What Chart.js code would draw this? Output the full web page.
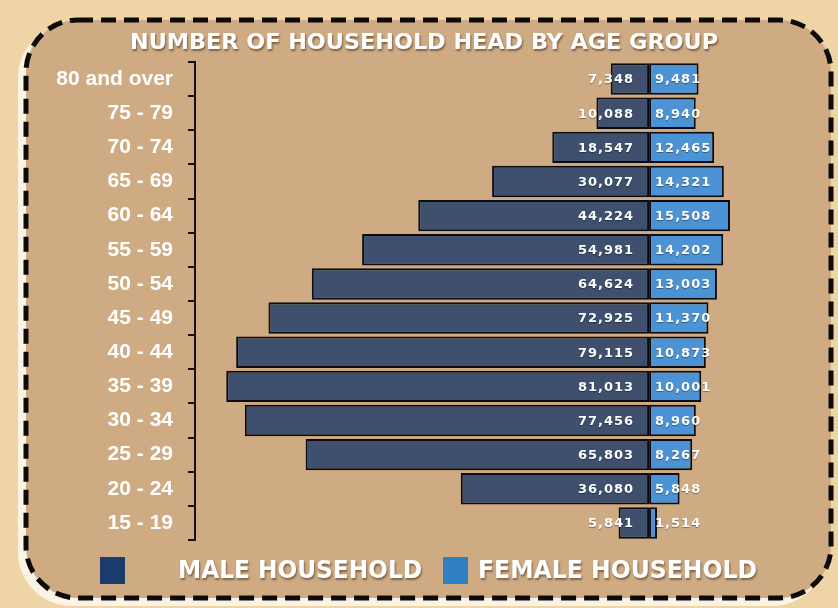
<!DOCTYPE html>
<html>
<head>
<meta charset="utf-8">
<script src="https://cdn.jsdelivr.net/npm/chart.js@4.4.0/dist/chart.umd.min.js"></script>
<style>
html, body { margin: 0; padding: 0; background: #efd4a5; }
#wrap { width: 838px; height: 608px; position: relative; }
</style>
</head>
<body>
<div id="wrap"><canvas id="pyramidChart"></canvas></div>
<script>
var ageGroups = ["80 and over", "75 - 79", "70 - 74", "65 - 69", "60 - 64", "55 - 59", "50 - 54",
  "45 - 49", "40 - 44", "35 - 39", "30 - 34", "25 - 29", "20 - 24", "15 - 19"];
var maleValues = [7348, 10088, 18547, 30077, 44224, 54981, 64624, 72925, 79115, 81013, 77456, 65803, 36080, 5841];
var femaleValues = [9481, 8940, 12465, 14321, 15508, 14202, 13003, 11370, 10873, 10001, 8960, 8267, 5848, 1514];
var chartTitle = "NUMBER OF HOUSEHOLD HEAD BY AGE GROUP";
var legendNames = ["MALE HOUSEHOLD", "FEMALE HOUSEHOLD"];

var maleColor = "#3e506e";
var femaleColor = "#4b93d5";

// squeeze/stretch a string so it fills a given width
function fitText(ctx, text, x, y, width, font) {
  ctx.save();
  ctx.font = font;
  var w = ctx.measureText(text).width;
  ctx.translate(x, y);
  ctx.scale(width / w, 1);
  ctx.textAlign = "left";
  ctx.textBaseline = "middle";
  ctx.fillText(text, 0, 0);
  ctx.restore();
}

function roundPath(ctx, x, y, w, h, r) {
  ctx.beginPath();
  ctx.moveTo(x + r, y);
  ctx.arcTo(x + w, y, x + w, y + h, r);
  ctx.arcTo(x + w, y + h, x, y + h, r);
  ctx.arcTo(x, y + h, x, y, r);
  ctx.arcTo(x, y, x + w, y, r);
  ctx.closePath();
}

var framePlugin = {
  id: "frame",
  beforeDraw: function (chart) {
    var ctx = chart.ctx;
    ctx.save();
    ctx.fillStyle = "#efd4a5";
    ctx.fillRect(0, 0, chart.width, chart.height);
    // white rim peeking out left/bottom
    ctx.fillStyle = "#fbf3e6";
    roundPath(ctx, 18, 24, 808, 582, 54);
    ctx.fill();
    ctx.fillStyle = "#cfab83";
    roundPath(ctx, 26, 20, 805, 578, 52);
    ctx.fill();
    ctx.setLineDash([15, 8]);
    ctx.lineWidth = 5;
    ctx.strokeStyle = "#0d0a08";
    ctx.stroke();
    ctx.restore();
  },
  afterDraw: function (chart) {
    var ctx = chart.ctx;
    ctx.save();
    ctx.shadowColor = "rgba(60,40,20,0.55)";
    ctx.shadowOffsetX = 1;
    ctx.shadowOffsetY = 2;
    ctx.shadowBlur = 2;
    ctx.fillStyle = "#ffffff";
    fitText(ctx, chartTitle, 130, 43, 588, "bold 22px 'DejaVu Sans Condensed', 'DejaVu Sans'");

    // legend
    ctx.shadowColor = "rgba(0,0,0,0)";
    ctx.fillStyle = "#1b3b6c";
    ctx.fillRect(100, 557, 25, 27);
    ctx.fillStyle = "#2e80c2";
    ctx.fillRect(443, 557, 25, 27);
    ctx.shadowColor = "rgba(60,40,20,0.55)";
    ctx.fillStyle = "#ffffff";
    fitText(ctx, legendNames[0], 178, 571, 244, "bold 25px 'DejaVu Sans Condensed', 'DejaVu Sans'");
    fitText(ctx, legendNames[1], 478, 571, 279, "bold 25px 'DejaVu Sans Condensed', 'DejaVu Sans'");
    ctx.restore();
  },
  afterDatasetsDraw: function (chart) {
    var ctx = chart.ctx;
    ctx.save();
    ctx.font = "bold 13px 'DejaVu Sans'";
    ctx.letterSpacing = "1px";
    ctx.fillStyle = "#ffffff";
    ctx.textBaseline = "middle";
    ctx.shadowColor = "rgba(0,0,0,0.4)";
    ctx.shadowBlur = 1;
    ctx.shadowOffsetY = 1;
    chart.getDatasetMeta(0).data.forEach(function (bar, i) {
      ctx.textAlign = "right";
      ctx.fillText(maleValues[i].toLocaleString("en-US"), bar.base - 15, bar.y + 1);
    });
    chart.getDatasetMeta(1).data.forEach(function (bar, i) {
      ctx.textAlign = "left";
      ctx.fillText(femaleValues[i].toLocaleString("en-US"), bar.base + 6, bar.y + 1);
    });
    ctx.restore();
  }
};

var ctx = document.getElementById("pyramidChart");
var pyramidChart = new Chart(ctx, {
  type: "bar",
  data: {
    labels: ageGroups,
    datasets: [
      {
        label: legendNames[0],
        data: maleValues.map(function (v) { return -v; }),
        backgroundColor: maleColor,
        borderColor: "#0b0b10",
        borderWidth: 2,
        borderSkipped: false,
        barPercentage: 0.92,
        categoryPercentage: 1.0,
      },
      {
        label: legendNames[1],
        data: femaleValues,
        backgroundColor: femaleColor,
        borderColor: "#0b0b10",
        borderWidth: 2,
        borderSkipped: false,
        barPercentage: 0.92,
        categoryPercentage: 1.0,
      },
    ],
  },
  options: {
    indexAxis: "y",
    responsive: true,
    maintainAspectRatio: false,
    animation: false,
    layout: {
      padding: { left: 45, right: 48, top: 62, bottom: 68 },
    },
    plugins: {
      legend: { display: false },
      title: { display: false },
      tooltip: { enabled: false },
    },
    scales: {
      x: {
        display: false,
        stacked: true,
        min: -87000,
        max: 27000,
      },
      y: {
        stacked: true,
        afterFit: function (scale) { scale.width = 150; },
        border: { display: true, color: "#111111", width: 2 },
        grid: {
          display: true,
          drawOnChartArea: false,
          drawTicks: true,
          tickLength: 7,
          color: "#111111",
          lineWidth: 2,
        },
        ticks: {
          color: "#ffffff",
          padding: 15,
          font: { family: "'Liberation Sans', Arial", size: 21, weight: "bold" },
        },
      },
    },
  },
  plugins: [framePlugin],
});
</script>
</body>
</html>
